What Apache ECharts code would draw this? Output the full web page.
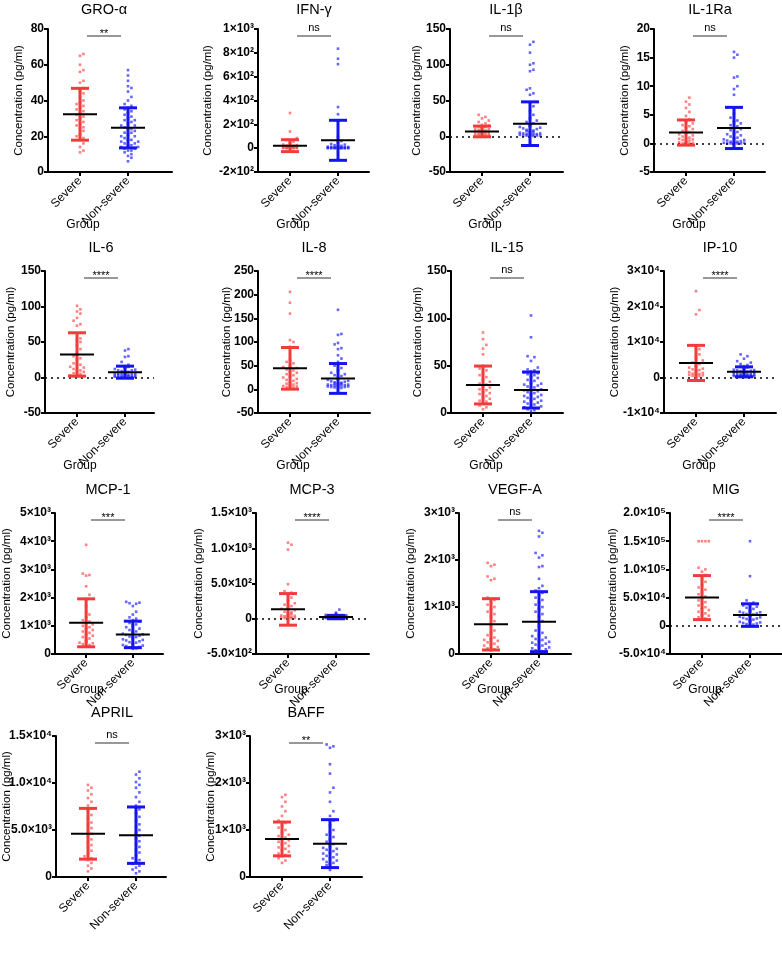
<!DOCTYPE html>
<html>
<head>
<meta charset="utf-8">
<script src="https://cdn.jsdelivr.net/npm/echarts@6/dist/echarts.min.js"></script>
<style>
  html, body { margin: 0; padding: 0; background: #fff; }
  #chart { width: 782px; height: 959px; }
</style>
</head>
<body>
<div id="chart"></div>
<script>
// ---- data ----
const analytes = ['GRO-α', 'IFN-γ', 'IL-1β', 'IL-1Ra', 'IL-6', 'IL-8', 'IL-15', 'IP-10',
  'MCP-1', 'MCP-3', 'VEGF-A', 'MIG', 'APRIL', 'BAFF']
const groups = ['Severe', 'Non-severe']
const significance = ['**', 'ns', 'ns', 'ns', '****', '****', 'ns', '****', '***', '****', 'ns', '****', 'ns', '**']

// individual values (pg/ml)
const groSevere = [66, 65, 60, 57, 56, 51, 50, 47, 45, 44, 42, 40, 39, 38, 37, 36, 35, 34, 33, 32, 31, 30, 29, 28, 27, 26, 25, 24, 23, 21, 20, 19, 18, 16, 14, 12, 11]
const groNonSevere = [57, 54, 51, 48, 47, 45, 42, 40, 38, 37, 36, 35, 34, 33, 32, 31, 30, 29, 29, 28, 27, 26, 26, 25, 24, 24, 23, 22, 22, 21, 20, 20, 19, 18, 18, 17, 17, 16, 16, 15, 15, 14, 14, 13, 13, 12, 12, 11, 10, 9, 8, 6]
const ifnSevere = [295, 140, 85, 70, 55, 45, 38, 30, 25, 22, 20, 18, 15, 12, 10, 10, 8, 6, 5, 5, 4, 3, 3, 2, 2, 1, 1, 0, 0, 0]
const ifnNonSevere = [835, 750, 705, 345, 285, 230, 95, 60, 45, 35, 30, 25, 20, 18, 15, 12, 10, 10, 8, 8, 6, 5, 5, 4, 3, 3, 2, 2, 1, 1, 1, 0, 0, 0, 0, 0, 0, 0]
const il1bSevere = [30, 27, 25, 22, 20, 18, 16, 15, 14, 13, 12, 11, 10, 10, 9, 8, 8, 7, 6, 6, 5, 5, 4, 4, 3, 3, 2, 2, 2, 1, 1, 1, 0.5, 0.5]
const il1bNonSevere = [132, 128, 117, 102, 100, 93, 91, 67, 65, 60, 58, 47, 42, 35, 30, 25, 22, 20, 18, 16, 15, 14, 13, 12, 11, 10, 9, 8, 8, 7, 6, 6, 5, 5, 4, 4, 3, 3, 3, 2, 2, 2, 1, 1, 1, 1, 0.5, 0.5]
const il1raSevere = [8, 7.3, 6.8, 6.2, 5.5, 4.8, 4.2, 3.8, 3.5, 3.2, 3, 2.8, 2.5, 2.2, 2, 1.8, 1.6, 1.4, 1.2, 1, 0.9, 0.8, 0.7, 0.6, 0.5, 0.4, 0.3, 0.2, 0.1, 0, 0, 0]
const il1raNonSevere = [16, 15.5, 15, 11.7, 11.5, 10, 9.5, 8.5, 6.2, 5.2, 4.5, 4, 3.8, 3.5, 3.2, 3, 2.8, 2.5, 2.3, 2, 1.8, 1.6, 1.4, 1.2, 1, 0.9, 0.8, 0.7, 0.6, 0.5, 0.4, 0.3, 0.3, 0.2, 0.2, 0.1, 0.1, 0, 0, 0, 0, 0]
const il6Severe = [101, 96, 93, 90, 84, 80, 75, 73, 62, 55, 53, 50, 45, 40, 35, 30, 27, 25, 20, 18, 17, 15, 14, 12, 10, 9, 8, 6, 5, 4, 3, 3, 2, 2, 1, 1]
const il6NonSevere = [40, 38, 30, 29, 22, 18, 16, 15, 14, 13, 12, 11, 10, 10, 9, 8, 8, 7, 7, 6, 6, 5, 5, 5, 4, 4, 4, 3, 3, 3, 2, 2, 2, 1, 1, 1, 1, 0.5, 0.5, 0.5, 0, 0]
const il8Severe = [206, 183, 160, 104, 100, 90, 62, 58, 55, 50, 47, 45, 42, 40, 38, 35, 32, 30, 27, 25, 22, 20, 18, 15, 13, 12, 10, 9, 8, 7, 6, 5, 4, 3]
const il8NonSevere = [168, 117, 115, 98, 95, 87, 85, 72, 65, 58, 50, 45, 40, 35, 32, 30, 28, 25, 22, 20, 18, 17, 16, 15, 14, 13, 12, 12, 11, 11, 10, 10, 9, 9, 8, 8, 7, 7, 6, 6, 5, 5, 4, 3, 2]
const il15Severe = [85, 78, 72, 68, 62, 50, 47, 45, 42, 40, 38, 35, 33, 31, 30, 28, 27, 25, 24, 22, 21, 20, 18, 16, 15, 13, 12, 10, 8, 6, 4]
const il15NonSevere = [103, 80, 60, 59, 55, 48, 46, 45, 44, 43, 42, 41, 40, 38, 37, 35, 34, 32, 31, 30, 29, 28, 27, 26, 25, 24, 23, 22, 21, 20, 19, 18, 17, 16, 15, 14, 13, 12, 11, 10, 9, 8, 7, 6, 5, 4, 3, 2]
const ip10Severe = [24300, 19000, 17800, 8000, 7800, 6500, 5500, 4800, 4200, 3800, 3500, 3200, 3000, 2800, 2500, 2300, 2100, 1900, 1700, 1500, 1300, 1100, 1000, 900, 800, 700, 600, 500, 400, 300]
const ip10NonSevere = [6500, 6000, 5300, 4600, 4200, 3800, 3500, 3200, 3000, 2800, 2600, 2400, 2200, 2100, 2000, 1900, 1800, 1700, 1600, 1500, 1400, 1300, 1200, 1100, 1000, 950, 900, 850, 800, 750, 700, 650, 600, 550, 500, 450, 400, 350, 300, 250, 200, 150, 100]
const mcp1Severe = [3870, 2850, 2800, 2780, 2400, 2100, 1950, 1700, 1500, 1400, 1300, 1200, 1150, 1100, 1050, 1000, 950, 900, 850, 800, 750, 700, 650, 600, 550, 500, 450, 420, 400, 380, 350, 320, 300]
const mcp1NonSevere = [1850, 1820, 1800, 1780, 1700, 1500, 1400, 1300, 1250, 1200, 1150, 1100, 1050, 1000, 950, 900, 850, 800, 780, 750, 720, 700, 680, 650, 620, 600, 580, 550, 520, 500, 480, 450, 420, 400, 380, 350, 320, 300, 280, 250, 230, 200, 180]
const mcp3Severe = [1080, 1050, 980, 490, 390, 370, 350, 300, 260, 220, 200, 180, 160, 140, 120, 100, 90, 80, 70, 60, 50, 45, 40, 35, 30, 25, 20, 15, 12, 10, 8, 5]
const mcp3NonSevere = [130, 85, 70, 60, 55, 50, 48, 45, 42, 40, 38, 35, 33, 30, 28, 26, 25, 24, 22, 20, 19, 18, 17, 16, 15, 14, 13, 12, 11, 10, 9, 8, 7, 6, 5]
const vegfSevere = [1940, 1900, 1870, 1650, 1600, 1570, 1200, 1150, 1100, 1050, 1000, 950, 900, 850, 800, 700, 600, 500, 450, 400, 350, 320, 300, 280, 250, 220, 200, 180, 150, 120, 100, 80]
const vegfNonSevere = [2620, 2580, 2500, 2150, 2100, 2050, 1870, 1850, 1600, 1450, 1400, 1350, 1300, 1250, 1200, 1150, 1100, 1050, 1000, 950, 900, 850, 800, 700, 600, 500, 450, 400, 380, 350, 320, 300, 280, 260, 240, 220, 200, 180, 160, 140, 120, 100, 80, 60, 40]
const migSevere = [150000, 150000, 150000, 150000, 103000, 100000, 96000, 90000, 82000, 78000, 72000, 68000, 64000, 60000, 56000, 52000, 48000, 45000, 42000, 39000, 36000, 33000, 30000, 28000, 25000, 22000, 20000, 18000, 15000, 13000, 11000]
const migNonSevere = [150000, 88000, 45000, 41000, 38000, 36000, 34000, 32000, 30000, 28000, 26000, 25000, 24000, 23000, 22000, 21000, 20000, 19000, 18000, 17000, 16000, 15000, 14000, 13000, 12000, 11000, 10000, 9000, 8000, 7000, 6000, 5000, 4000, 3000, 2000, 1000]
const aprilSevere = [9800, 9500, 9200, 8800, 8400, 8000, 7600, 7300, 7000, 6600, 6200, 5800, 5500, 5200, 4900, 4600, 4300, 4000, 3700, 3400, 3100, 2800, 2500, 2200, 2000, 1800, 1500, 1200, 900, 600]
const aprilNonSevere = [11200, 10900, 10500, 10100, 9800, 9500, 9000, 8500, 8000, 7600, 7200, 6800, 6400, 6000, 5600, 5300, 5000, 4700, 4400, 4100, 3800, 3500, 3200, 2900, 2600, 2300, 2000, 1800, 1600, 1400, 1200, 1000, 800, 600, 400]
const baffSevere = [1750, 1700, 1600, 1500, 1400, 1300, 1200, 1150, 1100, 1050, 1000, 950, 900, 870, 840, 810, 780, 750, 720, 690, 660, 630, 600, 570, 540, 500, 470, 440, 400, 350, 300]
const baffNonSevere = [2820, 2780, 2750, 2400, 2200, 1900, 1800, 1600, 1400, 1300, 1200, 1100, 1000, 950, 900, 850, 800, 750, 700, 650, 620, 600, 580, 550, 520, 500, 480, 450, 420, 400, 380, 350, 320, 300, 280, 250, 200, 150]

const severeValues = [groSevere, ifnSevere, il1bSevere, il1raSevere, il6Severe, il8Severe, il15Severe, ip10Severe,
  mcp1Severe, mcp3Severe, vegfSevere, migSevere, aprilSevere, baffSevere]
const nonSevereValues = [groNonSevere, ifnNonSevere, il1bNonSevere, il1raNonSevere, il6NonSevere, il8NonSevere, il15NonSevere, ip10NonSevere,
  mcp1NonSevere, mcp3NonSevere, vegfNonSevere, migNonSevere, aprilNonSevere, baffNonSevere]

// mean and SD as plotted
const severeMean = [32.3, 21, 6.7, 1.9, 32.5, 44.4, 29.6, 4100, 1106, 133, 631, 50000, 4600, 810]
const severeSD = [14.5, 50, 7.5, 2.2, 30.5, 44, 20, 4950, 850, 224, 546, 39000, 2700, 360]
const nonSevereMean = [24.7, 66, 17.6, 2.7, 7.5, 23, 24.3, 1600, 694, 24, 688, 19000, 4450, 710]
const nonSevereSD = [11.2, 168, 30.5, 3.6, 8.5, 31.5, 19, 1400, 470, 24, 638, 20000, 3000, 510]

// y axes
const yMin = [0, -200, -50, -5, -50, -50, 0, -10000, 0, -500, 0, -50000, 0, 0]
const yMax = [80, 1000, 150, 20, 150, 250, 150, 30000, 5000, 1500, 3000, 200000, 15000, 3000]
const yStep = [20, 200, 50, 5, 50, 50, 50, 10000, 1000, 500, 1000, 50000, 5000, 1000]
const yTickLabels = [
  ['0', '20', '40', '60', '80'],
  ['-2×10²', '0', '2×10²', '4×10²', '6×10²', '8×10²', '1×10³'],
  ['-50', '0', '50', '100', '150'],
  ['-5', '0', '5', '10', '15', '20'],
  ['-50', '0', '50', '100', '150'],
  ['-50', '0', '50', '100', '150', '200', '250'],
  ['0', '50', '100', '150'],
  ['-1×10⁴', '0', '1×10⁴', '2×10⁴', '3×10⁴'],
  ['0', '1×10³', '2×10³', '3×10³', '4×10³', '5×10³'],
  ['-5.0×10²', '0', '5.0×10²', '1.0×10³', '1.5×10³'],
  ['0', '1×10³', '2×10³', '3×10³'],
  ['-5.0×10⁴', '0', '5.0×10⁴', '1.0×10⁵', '1.5×10⁵', '2.0×10⁵'],
  ['0', '5.0×10³', '1.0×10⁴', '1.5×10⁴'],
  ['0', '1×10³', '2×10³', '3×10³']
]
const zeroLine = [false, false, true, true, true, false, false, true, false, true, false, true, false, false]

// ---- layout ----
const FONT = '"Liberation Sans", Arial, Helvetica, sans-serif'
const UNIT = 16          // px per x unit
const SEV_X = 2
const NON_X = 5
const axisLeft = [48, 258, 450, 654, 45, 258, 451, 664, 52, 256, 459, 670, 56, 250]
const axisLen = [124, 111, 113, 111, 109, 112, 112, 112, 111, 113, 112, 112, 110, 112]
const rowTop = [29, 271, 513, 736]
const rowH = [143, 142, 141, 141]
const titleY = [10, 248, 490, 713]
const groupY = [225, 466, 690]
const yNameCenter = [29, 50, 33, 29, 34, 31, 33, 49, 48, 57, 48, 57, 49, 39]
const dotColor = ['rgba(255,70,70,0.85)', 'rgba(30,30,255,0.85)']
const barColor = ['#F23C3C', '#1414F0']

// spread tied values sideways, like a dot plot
function swarm(vals, x, range, half) {
  const order = vals.map((v, i) => i).sort((a, b) => vals[a] - vals[b])
  const bin = range * 5 / 142
  const step = 3.4 / UNIT
  const maxSlot = Math.floor(half / step)
  const out = []
  let start = null, k = 0
  order.forEach(idx => {
    const v = vals[idx]
    if (start === null || v - start > bin) { start = v; k = 0 }
    let slot = Math.ceil(k / 2) * (k % 2 ? 1 : -1)
    if (Math.abs(slot) > maxSlot) slot = slot % (maxSlot + 1)
    out.push([x + slot * step, v])
    k++
  })
  return out
}

const chart = echarts.init(document.getElementById('chart'))
const grid = [], xAxis = [], yAxis = [], series = [], graphic = []

analytes.forEach((name, i) => {
  const row = Math.floor(i / 4)
  const left = axisLeft[i]
  const top = rowTop[row]
  const lo = yMin[i], step = yStep[i]
  const labels = yTickLabels[i]

  grid.push({ left: left, top: top, width: axisLen[i], height: rowH[row] })
  xAxis.push({
    gridIndex: i, type: 'value', min: 0, max: axisLen[i] / UNIT,
    splitLine: { show: false },
    axisLine: { onZero: false, lineStyle: { color: '#000', width: 2 } },
    axisTick: { customValues: [SEV_X, NON_X], length: 4, lineStyle: { color: '#000', width: 2 } },
    axisLabel: {
      customValues: [SEV_X, NON_X], rotate: 45, margin: 7,
      formatter: v => (v === SEV_X ? groups[0] : groups[1]),
      fontSize: 12, color: '#000', fontFamily: FONT
    }
  })
  yAxis.push({
    gridIndex: i, type: 'value', min: lo, max: yMax[i], interval: step,
    splitLine: { show: false },
    name: 'Concentration (pg/ml)', nameLocation: 'middle', nameGap: yNameCenter[i] - 6,
    nameMoveOverlap: false,
    nameTextStyle: { fontSize: 11.5, color: '#000', fontFamily: FONT },
    axisLine: { show: true, onZero: false, lineStyle: { color: '#000', width: 2 } },
    axisTick: { show: true, length: 4, lineStyle: { color: '#000', width: 2 } },
    axisLabel: {
      formatter: v => labels[Math.round((v - lo) / step)],
      fontWeight: 'bold', fontSize: 12, color: '#000', fontFamily: FONT, margin: 4
    }
  })

  const range = yMax[i] - yMin[i]
  const sev = {
    type: 'scatter', xAxisIndex: i, yAxisIndex: i, z: 2,
    symbol: 'rect', symbolSize: 2.6, itemStyle: { color: dotColor[0] },
    data: swarm(severeValues[i], SEV_X, range, 0.6)
  }
  if (zeroLine[i]) {
    sev.markLine = {
      silent: true, symbol: 'none', label: { show: false },
      lineStyle: { color: '#000', type: [2, 4], width: 1.6 },
      data: [{ yAxis: 0 }]
    }
  }
  series.push(sev)
  series.push({
    type: 'scatter', xAxisIndex: i, yAxisIndex: i, z: 2,
    symbol: 'rect', symbolSize: 2.6, itemStyle: { color: dotColor[1] },
    data: swarm(nonSevereValues[i], NON_X, range, 0.8)
  })
  series.push({
    type: 'custom', xAxisIndex: i, yAxisIndex: i, z: 5,
    data: [[SEV_X, severeMean[i], severeSD[i], 0], [NON_X, nonSevereMean[i], nonSevereSD[i], 1]],
    renderItem: (params, api) => {
      const x = api.value(0), m = api.value(1), s = api.value(2), g = api.value(3)
      const hi = api.coord([x, m + s]), lo2 = api.coord([x, m - s]), mid = api.coord([x, m])
      const st = { stroke: barColor[g], lineWidth: 3 }
      return {
        type: 'group',
        children: [
          { type: 'line', shape: { x1: hi[0], y1: hi[1], x2: lo2[0], y2: lo2[1] }, style: st },
          { type: 'line', shape: { x1: hi[0] - 9, y1: hi[1], x2: hi[0] + 9, y2: hi[1] }, style: st },
          { type: 'line', shape: { x1: lo2[0] - 9, y1: lo2[1], x2: lo2[0] + 9, y2: lo2[1] }, style: st },
          { type: 'line', shape: { x1: mid[0] - 17, y1: mid[1], x2: mid[0] + 17, y2: mid[1] }, style: { stroke: '#000', lineWidth: 2 } }
        ]
      }
    }
  })

  const cx = left + (SEV_X + NON_X) / 2 * UNIT
  graphic.push({
    type: 'text', x: cx, y: titleY[row],
    style: { text: name, fontSize: 14.5, fontFamily: FONT, fill: '#000', align: 'center', verticalAlign: 'middle' }
  })
  const by = top + 7
  graphic.push({
    type: 'line', shape: { x1: left + 39, y1: by, x2: left + 73, y2: by },
    style: { stroke: '#333', lineWidth: 1.2 }
  })
  const stars = significance[i] !== 'ns'
  graphic.push({
    type: 'text', x: cx, y: stars ? by - 2 : by - 8,
    style: { text: significance[i], fontSize: 11, fontFamily: FONT, fill: '#000', align: 'center', verticalAlign: 'middle' }
  })
  if (row < 3) {
    graphic.push({
      type: 'text', x: left + 35, y: groupY[row],
      style: { text: 'Group', fontSize: 12, fontFamily: FONT, fill: '#000', align: 'center', verticalAlign: 'middle' }
    })
  }
})

chart.setOption({
  animation: false,
  backgroundColor: '#fff',
  grid: grid,
  xAxis: xAxis,
  yAxis: yAxis,
  series: series,
  graphic: graphic
})
</script>
</body>
</html>
